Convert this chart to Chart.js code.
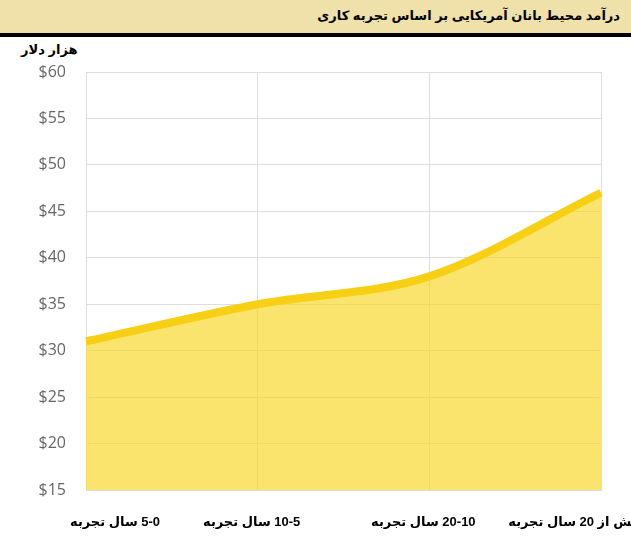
<!DOCTYPE html>
<html>
<head>
<meta charset="utf-8">
<script src="https://cdn.jsdelivr.net/npm/chart.js@4"></script>
<style>
  body { margin: 0; width: 631px; height: 546px; background: #fff; position: relative; overflow: hidden; font-family: Arial, "DejaVu Sans", sans-serif; }
  #header { position: absolute; left: 0; top: 0; width: 631px; height: 33px; background: #efe1a9; border-bottom: 4px solid #000; }
  #header span { position: absolute; right: 11px; top: 8px; font-size: 13px; font-weight: bold; color: #000; direction: rtl; }
  #unit { position: absolute; left: 21px; top: 42px; font-size: 13px; font-weight: bold; color: #000; direction: rtl; }
  #wrap { position: absolute; left: 0; top: 37px; width: 631px; height: 509px; }
</style>
</head>
<body>
<div id="header"><span>درآمد محیط بانان آمریکایی بر اساس تجربه کاری</span></div>
<div id="unit">هزار دلار</div>
<div id="wrap"><canvas id="incomeChart"></canvas></div>
<script>
// experience bands, left to right
const categories = ["5-0 سال تجربه", "10-5 سال تجربه", "20-10 سال تجربه", "بیش از 20 سال تجربه"];
// thousand dollars
const income = [31, 35, 38, 47];
const yMin = 15;
const yMax = 60;
const yStep = 5;

const gridColor = "#dedede";

// x labels are rtl text and sit a bit off their points (first one pushed right, last one pulled in)
const xLabels = {
  id: "xLabels",
  afterDraw(chart) {
    const { ctx } = chart;
    const x = chart.scales.x;
    ctx.save();
    ctx.font = "bold 13px Arial, 'DejaVu Sans'";
    ctx.fillStyle = "#000";
    ctx.textBaseline = "middle";
    ctx.direction = "rtl";
    categories.forEach((label, i) => {
      const px = x.getPixelForValue(i);
      if (i === 0) {
        ctx.textAlign = "left";
        ctx.fillText(label, px - 16, x.top + 32);
      } else if (i === categories.length - 1) {
        ctx.textAlign = "center";
        ctx.fillText(label, px - 26, x.top + 32);
      } else {
        ctx.textAlign = "center";
        ctx.fillText(label, px - 6, x.top + 32);
      }
    });
    ctx.restore();
  }
};

new Chart(document.getElementById("incomeChart"), {
  type: "line",
  data: {
    labels: categories,
    datasets: [
      {
        data: income,
        borderColor: "#f7cf14",
        backgroundColor: "rgba(248,214,30,0.65)",
        borderWidth: 8,
        fill: "start",
        tension: 0.4,
        cubicInterpolationMode: "monotone",
        pointRadius: 0,
        borderCapStyle: "butt"
      }
    ]
  },
  options: {
    responsive: true,
    maintainAspectRatio: false,
    animation: false,
    layout: {
      padding: { top: 35, right: 30, left: 0, bottom: 0 }
    },
    scales: {
      x: {
        offset: false,
        grid: { color: gridColor, drawTicks: false },
        border: { color: gridColor },
        ticks: { display: false },
        afterFit: s => {
          s.height = 56;
          s.paddingLeft = 0;
          s.paddingRight = 0;
        }
      },
      y: {
        min: yMin,
        max: yMax,
        grid: { color: gridColor, drawTicks: false },
        border: { color: gridColor },
        ticks: {
          stepSize: yStep,
          padding: 20,
          color: "#666",
          font: { family: "'Open Sans', sans-serif", size: 16 },
          callback: v => "$" + v
        },
        afterFit: s => {
          s.width = 86;
          s.paddingTop = 0;
          s.paddingBottom = 0;
        }
      }
    },
    plugins: {
      legend: { display: false },
      tooltip: { enabled: false }
    }
  },
  plugins: [xLabels]
});
</script>
</body>
</html>
